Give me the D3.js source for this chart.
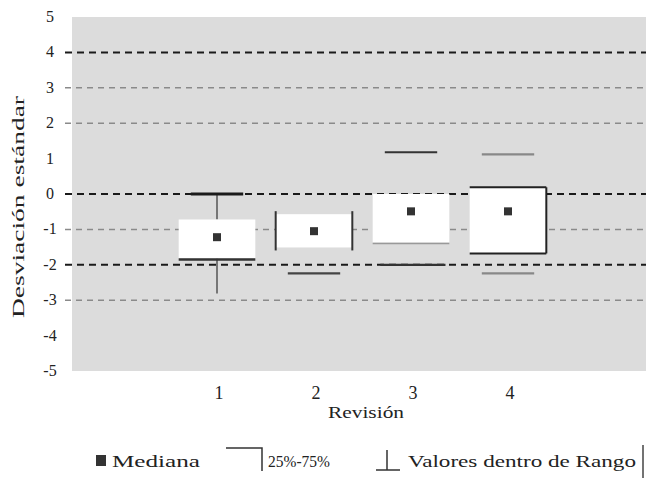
<!DOCTYPE html>
<html>
<head>
<meta charset="utf-8">
<script src="https://cdn.jsdelivr.net/npm/d3@7"></script>
<style>
body{margin:0;background:#fff;}
text{font-family:"Liberation Serif","DejaVu Serif",serif;fill:#222;}
</style>
</head>
<body>
<div id="chart"></div>
<script>
// data
var categories = [1, 2, 3, 4];
var q1 = [-1.82, -1.51, -1.37, -1.68];
var q3 = [-0.72, -0.57, 0.0, 0.19];
var medians = [-1.22, -1.05, -0.49, -0.49];
var whiskerHigh = [0.0, null, 1.18, 1.12];
var whiskerLow = [-2.81, -2.24, -2.0, -2.24];
var yTicks = [5, 4, 3, 2, 1, 0, -1, -2, -3, -4, -5];
var heavyLines = [4, 0, -2];
var lightLines = [3, 2, -1, -3];

var width = 646, height = 478;
var svg = d3.select("#chart").append("svg")
	.attr("width", width)
	.attr("height", height);

var x = d3.scaleLinear().domain([0.5, 4.5]).range([168.5, 556.5]);
var y = d3.scaleLinear().domain([-5, 5]).range([371, 17]);
var unit = x(1) - x(0);
var boxW = unit * 0.79;
var capW = unit * 0.54;

// plot background
svg.append("rect")
	.attr("x", 72).attr("y", y(5))
	.attr("width", width - 72).attr("height", y(-5) - y(5))
	.attr("fill", "#dcdcdc");

// grid lines
svg.selectAll(".grid-light").data(lightLines).enter().append("line")
	.attr("x1", 65).attr("x2", width)
	.attr("y1", function(d){return y(d);}).attr("y2", function(d){return y(d);})
	.attr("stroke", "#8a8a8a").attr("stroke-width", 1.5)
	.attr("stroke-dasharray", "6,5");
svg.selectAll(".grid-heavy").data(heavyLines).enter().append("line")
	.attr("x1", 65).attr("x2", width)
	.attr("y1", function(d){return y(d);}).attr("y2", function(d){return y(d);})
	.attr("stroke", "#1a1a1a").attr("stroke-width", 2)
	.attr("stroke-dasharray", "7,5");

// y tick labels
svg.selectAll(".ytick").data(yTicks).enter().append("text")
	.attr("x", 50).attr("y", function(d){return y(d) + 5;})
	.attr("text-anchor", "middle")
	.attr("font-size", 16)
	.text(function(d){return d;});

// x tick labels
svg.selectAll(".xtick").data(categories).enter().append("text")
	.attr("x", function(d){return x(d) + 2;}).attr("y", 399)
	.attr("text-anchor", "middle")
	.attr("font-size", 18)
	.text(function(d){return d;});

// axis titles
svg.append("text")
	.attr("x", 366).attr("y", 418)
	.attr("text-anchor", "middle").attr("font-size", 16)
	.attr("textLength", 76).attr("lengthAdjust", "spacingAndGlyphs")
	.text("Revisión");
svg.append("text")
	.attr("transform", "translate(24,207) rotate(-90)")
	.attr("text-anchor", "middle").attr("font-size", 17)
	.attr("textLength", 222).attr("lengthAdjust", "spacingAndGlyphs")
	.text("Desviación estándar");

// boxes
var boxes = categories.map(function(c, i){
	return {c: c, q1: q1[i], q3: q3[i], med: medians[i], hi: whiskerHigh[i], lo: whiskerLow[i], i: i};
});

var g = svg.selectAll(".box").data(boxes).enter().append("g").attr("class", "box");

// whisker stems (only the first box shows them)
g.filter(function(d){return d.i == 0;}).each(function(d){
	var s = d3.select(this);
	s.append("line")
		.attr("x1", x(d.c)).attr("x2", x(d.c))
		.attr("y1", y(d.hi)).attr("y2", y(d.q3))
		.attr("stroke", "#555").attr("stroke-width", 1.5);
	s.append("line")
		.attr("x1", x(d.c)).attr("x2", x(d.c))
		.attr("y1", y(d.q1)).attr("y2", y(d.lo))
		.attr("stroke", "#555").attr("stroke-width", 1.5);
});

g.append("rect")
	.attr("x", function(d){return x(d.c) - boxW/2;})
	.attr("y", function(d){return y(d.q3);})
	.attr("width", boxW)
	.attr("height", function(d){return y(d.q1) - y(d.q3);})
	.attr("fill", "#fff");

// box edges, as they appear in the picture
var edgeColor = ["#333", "#333", "#999", "#222"];
g.each(function(d){
	var s = d3.select(this);
	var l = x(d.c) - boxW/2, r = x(d.c) + boxW/2, t = y(d.q3), b = y(d.q1);
	var col = edgeColor[d.i];
	function seg(x1, y1, x2, y2, w){
		s.append("line").attr("x1", x1).attr("y1", y1).attr("x2", x2).attr("y2", y2)
			.attr("stroke", col).attr("stroke-width", w);
	}
	if(d.i == 0){ seg(l, b + 1, r, b + 1, 2.5); }
	if(d.i == 1){ seg(l, t - 3, l, b + 3, 2); seg(r, t - 3, r, b + 3, 2); }
	if(d.i == 2){ seg(l, b + 1, r, b + 1, 1.5); }
	if(d.i == 3){ seg(l, t, r, t, 2); seg(r, t, r, b, 2); seg(l, b, r, b, 2); }
});

// whisker caps
var capColor = ["#1a1a1a", "#444", "#333", "#888"];
g.filter(function(d){return d.hi != null;}).append("line")
	.attr("x1", function(d){return x(d.c) - capW/2;})
	.attr("x2", function(d){return x(d.c) + capW/2;})
	.attr("y1", function(d){return y(d.hi);}).attr("y2", function(d){return y(d.hi);})
	.attr("stroke", function(d){return capColor[d.i];})
	.attr("stroke-width", function(d){return d.i == 0 ? 3 : 2.2;});
g.filter(function(d){return d.i != 0;}).append("line")
	.attr("x1", function(d){return x(d.c) - (d.i == 2 ? boxW*0.4 : capW/2);})
	.attr("x2", function(d){return x(d.c) + (d.i == 2 ? boxW*0.45 : capW/2);})
	.attr("y1", function(d){return y(d.lo);}).attr("y2", function(d){return y(d.lo);})
	.attr("stroke", function(d){return capColor[d.i];})
	.attr("stroke-width", 2.2);

// medians
g.append("rect")
	.attr("x", function(d){return x(d.c) - 4;})
	.attr("y", function(d){return y(d.med) - 4;})
	.attr("width", 8).attr("height", 8)
	.attr("fill", "#333");

// legend
var lg = svg.append("g");
lg.append("rect").attr("x", 96).attr("y", 455).attr("width", 10).attr("height", 11).attr("fill", "#333");
lg.append("text").attr("x", 112).attr("y", 467).attr("font-size", 16)
	.attr("textLength", 88).attr("lengthAdjust", "spacingAndGlyphs").text("Mediana");
lg.append("path").attr("d", "M226,448H262V471").attr("fill", "none").attr("stroke", "#333").attr("stroke-width", 1.5);
lg.append("text").attr("x", 268).attr("y", 467).attr("font-size", 16)
	.attr("textLength", 62).attr("lengthAdjust", "spacingAndGlyphs").text("25%-75%");
lg.append("path").attr("d", "M387,450V470M376,470H400").attr("fill", "none").attr("stroke", "#333").attr("stroke-width", 1.5);
lg.append("text").attr("x", 408).attr("y", 467).attr("font-size", 16)
	.attr("textLength", 228).attr("lengthAdjust", "spacingAndGlyphs").text("Valores dentro de Rango");
lg.append("line").attr("x1", 643).attr("x2", 643).attr("y1", 445).attr("y2", 478)
	.attr("stroke", "#444").attr("stroke-width", 1.5);
</script>
</body>
</html>
